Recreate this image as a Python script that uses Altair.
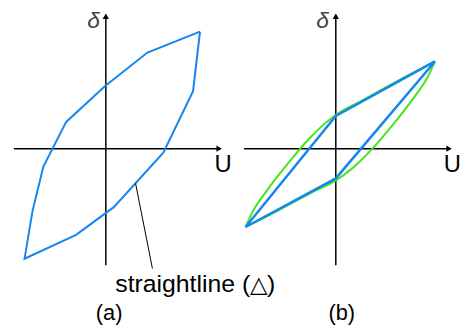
import altair as alt
import pandas as pd

# ---- data (diagram units, origin at axes crossing) ----
# panel (a): hysteresis loop made of straight segments
a_u = [9.5, 8.8, 5.8, 0.8, -3.0, -8.2, -7.4, -6.3, -4.0, -0.1, 4.2]
a_d = [11.8, 5.8, -0.4, -5.9, -8.7, -11.1, -6.3, -1.8, 2.7, 6.3, 9.7]
# panel (b): straight-line parallelogram
b_u = [10.0, 0.0, -9.1, 0.0]
b_d = [8.8, 3.3, -7.9, -3.0]
# panel (b): green curved branches
g1_u = [-9.1, -8.37, -7.03, -4.7, -2.7, -1.2, 0.0, 2.5, 5.0, 7.5, 10.0]
g1_d = [-7.9, -6.33, -4.33, -1.33, 1.0, 2.45, 3.4, 4.78, 6.15, 7.52, 8.8]
g2_u = [-9.1, -7.5, -5.0, -2.5, 0.0, 1.6, 3.6, 5.6, 7.93, 9.27, 10.0]
g2_d = [-7.9, -7.12, -5.8, -4.45, -3.2, -2.04, -0.1, 2.23, 5.23, 7.23, 8.8]
# pointer line for the annotation
ptr_u = [3.0, 4.7]
ptr_d = [-3.5, -12.1]

# axes extents
ax_u = [-9.27, 11.43]
ax_d = [-11.75, 13.35]

BLUE = "#1486f0"
GREEN = "#44e51a"
FONT = "Liberation Sans"

XS = alt.Scale(domain=[-9.87, 12.13], nice=False, zero=False)
YS = alt.Scale(domain=[-17.55, 13.95], nice=False, zero=False)


def X(f="u"):
    return alt.X(f"{f}:Q", scale=XS, axis=None)


def Y(f="d"):
    return alt.Y(f"{f}:Q", scale=YS, axis=None)


def path_df(us, ds, close=False):
    us = list(us)
    ds = list(ds)
    if close:
        us = us + [us[0]]
        ds = ds + [ds[0]]
    return pd.DataFrame({"u": us, "d": ds, "i": list(range(len(us)))})


def axes_layers():
    h = alt.Chart(pd.DataFrame({"u": [ax_u[0]], "u2": [ax_u[1]], "d": [0.0]})).mark_rule(
        color="black", strokeWidth=1.5
    ).encode(x=X("u"), x2="u2:Q", y=Y("d"))
    v = alt.Chart(pd.DataFrame({"u": [0.0], "d": [ax_d[0]], "d2": [ax_d[1]]})).mark_rule(
        color="black", strokeWidth=1.5
    ).encode(x=X("u"), y=Y("d"), y2="d2:Q")
    ah = alt.Chart(pd.DataFrame({"u": [ax_u[1]], "d": [0.0]})).mark_point(
        shape="triangle-right", filled=True, color="black", size=40, opacity=1
    ).encode(x=X(), y=Y())
    av = alt.Chart(pd.DataFrame({"u": [0.0], "d": [ax_d[1]]})).mark_point(
        shape="triangle-up", filled=True, color="black", size=40, opacity=1
    ).encode(x=X(), y=Y())
    return [h, v, ah, av]


def label(u, d, text, size, align="center", italic=False, color="black", font=FONT):
    kw = dict(font=font, fontSize=size, align=align, baseline="alphabetic", color=color)
    if italic:
        kw["fontStyle"] = "italic"
    return alt.Chart(pd.DataFrame({"u": [u], "d": [d], "t": [text]})).mark_text(**kw).encode(
        x=X(), y=Y(), text="t:N"
    )


def line(df, color, width, interp="linear"):
    return alt.Chart(df).mark_line(color=color, strokeWidth=width, interpolate=interp).encode(
        x=X(), y=Y(), order="i:Q"
    )


# ---- panel (a) ----
pa = alt.layer(
    *axes_layers(),
    line(path_df(a_u, a_d, close=True), BLUE, 2),
    line(path_df(ptr_u, ptr_d), "black", 1),
    label(-1.24, 12.2, "δ", 23, italic=True, color="#444444"),
    label(11.83, -2.35, "U", 24),
    label(0.95, -14.48, "straightline (", 25, align="left"),
    label(15.43, -14.48, "△", 23, font="DejaVu Sans"),
    label(17.08, -14.48, ")", 25, align="right"),
    label(0.33, -17.29, "(a)", 22),
).properties(width=220, height=315)

# ---- panel (b) ----
pb = alt.layer(
    *axes_layers(),
    line(path_df(g1_u, g1_d), GREEN, 2, "monotone"),
    line(path_df(g2_u, g2_d), GREEN, 2, "monotone"),
    line(path_df(b_u, b_d, close=True), BLUE, 2.5),
    label(-1.33, 12.2, "δ", 23, italic=True, color="#444444"),
    label(11.75, -2.35, "U", 24),
    label(0.6, -17.29, "(b)", 22),
).properties(width=220, height=315)

chart = alt.hconcat(pa, pb, spacing=12, bounds="flush").properties(padding=0).configure_view(
    stroke=None
)

chart.save("out.html", embed_options={"renderer": "svg", "actions": False})
